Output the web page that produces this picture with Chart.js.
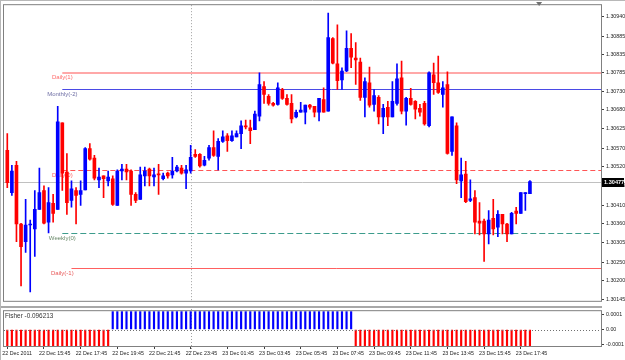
<!DOCTYPE html>
<html><head><meta charset="utf-8">
<script src="https://cdn.jsdelivr.net/npm/chart.js@4.4.0/dist/chart.umd.min.js"></script>
<style>
html,body{margin:0;padding:0;background:#fff;}
#wrap{position:relative;width:625px;height:360px;overflow:hidden;background:#fff;}
#c1{position:absolute;left:0;top:0;width:625px;height:306px;}
#c2{position:absolute;left:0;top:306px;width:625px;height:54px;}
</style></head><body>
<div id="wrap"><canvas id="c1" width="625" height="306"></canvas><canvas id="c2" width="625" height="54"></canvas></div>
<script>
// ---------- DATA (EURUSD-like, M15) ----------
const opens = [1.30565,1.30446,1.30523,1.30358,1.30308,1.30355,1.30344,1.30399,1.30452,1.30363,
1.30416,1.30399,1.30642,1.30504,1.30424,1.30452,1.30441,1.30454,1.30570,1.30543,
1.30482,1.30493,1.30479,1.30485,1.30410,1.30507,1.30512,1.30507,1.30441,1.30427,
1.30493,1.30512,1.30490,1.30498,1.30485,1.30501,1.30496,1.30507,1.30515,1.30501,
1.30507,1.30554,1.30554,1.30523,1.30543,1.30573,1.30548,1.30590,1.30606,1.30592,
1.30603,1.30612,1.30634,1.30628,1.30623,1.30661,1.30744,1.30717,1.30697,1.30694,
1.30736,1.30711,1.30697,1.30659,1.30672,1.30672,1.30692,1.30689,1.30672,1.30708,
1.30675,1.30879,1.30808,1.30763,1.30788,1.30852,1.30824,1.30813,1.30714,1.30755,
1.30694,1.30714,1.30659,1.30686,1.30659,1.30697,1.30769,1.30675,1.30711,1.30703,
1.30683,1.30697,1.30634,1.30777,1.30755,1.30722,1.30750,1.30562,1.30634,1.30479,
1.30498,1.30424,1.30432,1.30366,1.30366,1.30330,1.30374,1.30349,1.30385,1.30358,
1.30330,1.30394,1.30388,1.30443,1.30443];
const highs = [1.30612,1.30523,1.30534,1.30360,1.30427,1.30369,1.30452,1.30515,1.30465,1.30460,
1.30441,1.30689,1.30642,1.30556,1.30479,1.30460,1.30479,1.30573,1.30584,1.30551,
1.30515,1.30493,1.30507,1.30493,1.30510,1.30526,1.30526,1.30510,1.30446,1.30518,
1.30518,1.30515,1.30515,1.30526,1.30501,1.30504,1.30545,1.30523,1.30523,1.30523,
1.30579,1.30567,1.30556,1.30548,1.30579,1.30620,1.30598,1.30620,1.30612,1.30620,
1.30620,1.30648,1.30650,1.30650,1.30675,1.30783,1.30758,1.30722,1.30700,1.30755,
1.30739,1.30722,1.30722,1.30678,1.30700,1.30692,1.30694,1.30689,1.30711,1.30741,
1.30951,1.30882,1.30918,1.30797,1.30901,1.30893,1.30868,1.30824,1.30769,1.30799,
1.30736,1.30719,1.30694,1.30703,1.30758,1.30808,1.30816,1.30714,1.30739,1.30705,
1.30694,1.30703,1.30786,1.30810,1.30830,1.30758,1.30786,1.30659,1.30642,1.30543,
1.30534,1.30482,1.30452,1.30418,1.30372,1.30396,1.30427,1.30396,1.30385,1.30360,
1.30391,1.30405,1.30446,1.30446,1.30480];
const lows = [1.30460,1.30438,1.30308,1.30184,1.30278,1.30167,1.30267,1.30399,1.30358,1.30333,
1.30363,1.30399,1.30452,1.30385,1.30405,1.30358,1.30410,1.30454,1.30537,1.30482,
1.30460,1.30432,1.30465,1.30410,1.30410,1.30482,1.30482,1.30410,1.30418,1.30427,
1.30465,1.30465,1.30465,1.30441,1.30482,1.30487,1.30487,1.30504,1.30498,1.30457,
1.30501,1.30545,1.30518,1.30521,1.30537,1.30548,1.30510,1.30587,1.30562,1.30590,
1.30603,1.30570,1.30625,1.30584,1.30623,1.30648,1.30697,1.30692,1.30689,1.30692,
1.30708,1.30692,1.30642,1.30656,1.30672,1.30639,1.30681,1.30659,1.30648,1.30672,
1.30675,1.30808,1.30736,1.30736,1.30786,1.30797,1.30750,1.30705,1.30659,1.30686,
1.30675,1.30639,1.30612,1.30634,1.30659,1.30692,1.30667,1.30636,1.30692,1.30653,
1.30661,1.30636,1.30631,1.30722,1.30725,1.30686,1.30554,1.30551,1.30471,1.30432,
1.30418,1.30421,1.30330,1.30327,1.30253,1.30302,1.30327,1.30322,1.30330,1.30308,
1.30330,1.30358,1.30388,1.30396,1.30443];
const closes = [1.30474,1.30507,1.30358,1.30294,1.30355,1.30358,1.30399,1.30446,1.30360,1.30418,
1.30388,1.30645,1.30501,1.30418,1.30457,1.30438,1.30452,1.30570,1.30540,1.30487,
1.30490,1.30485,1.30490,1.30413,1.30507,1.30512,1.30504,1.30441,1.30424,1.30496,
1.30507,1.30493,1.30496,1.30496,1.30493,1.30493,1.30507,1.30518,1.30501,1.30510,
1.30545,1.30548,1.30521,1.30537,1.30573,1.30551,1.30590,1.30603,1.30592,1.30606,
1.30612,1.30634,1.30631,1.30620,1.30667,1.30750,1.30722,1.30697,1.30692,1.30741,
1.30711,1.30694,1.30653,1.30672,1.30678,1.30692,1.30686,1.30672,1.30711,1.30672,
1.30882,1.30810,1.30761,1.30788,1.30852,1.30827,1.30819,1.30714,1.30758,1.30692,
1.30719,1.30659,1.30683,1.30659,1.30703,1.30766,1.30675,1.30711,1.30694,1.30681,
1.30672,1.30639,1.30783,1.30755,1.30728,1.30741,1.30556,1.30659,1.30482,1.30496,
1.30421,1.30429,1.30363,1.30360,1.30330,1.30369,1.30344,1.30385,1.30358,1.30330,
1.30388,1.30388,1.30446,1.30446,1.30477];
const fisher = [-0.1,-0.1,-0.1,-0.1,-0.1,-0.1,-0.1,-0.1,-0.1,-0.1,-0.1,-0.1,-0.1,-0.1,-0.1,-0.1,-0.1,-0.1,-0.1,-0.1,-0.1,-0.1,-0.1,
0.1,0.1,0.1,0.1,0.1,0.1,0.1,0.1,0.1,0.1,0.1,0.1,0.1,0.1,0.1,0.1,0.1,0.1,0.1,0.1,0.1,0.1,0.1,0.1,0.1,0.1,0.1,0.1,0.1,0.1,
0.1,0.1,0.1,0.1,0.1,0.1,0.1,0.1,0.1,0.1,0.1,0.1,0.1,0.1,0.1,0.1,0.1,0.1,0.1,0.1,0.1,0.1,0.1,
-0.1,-0.1,-0.1,-0.1,-0.1,-0.1,-0.1,-0.1,-0.1,-0.1,-0.1,-0.1,-0.1,-0.1,-0.1,-0.1,-0.1,-0.1,-0.1,-0.1,
-0.1,-0.1,-0.1,-0.1,-0.1,-0.1,-0.1,-0.1,-0.1,-0.1,-0.1,-0.1,-0.1,-0.1,-0.1,-0.1,-0.1,-0.1,-0.096213];
const fisherName = "Fisher";

const priceTicks = [1.30940,1.30885,1.30835,1.30785,1.30730,1.30680,1.30625,1.30570,1.30520,1.30465,1.30410,1.30360,1.30305,1.30250,1.30200,1.30145];
const currentPrice = 1.30477;
const priceMin = 1.30142, priceMax = 1.30973;

const fisherTicks = [0.0001, 0, -0.0001];
const fisherTickLabels = ["0.0001", "0.00", "-0.0001"];
const fisherMin = -0.0001125, fisherMax = 0.000125;

const levelNames  = ["Daily(1)", "Monthly(-2)", "Daily(0)", "Weekly(0)", "Daily(-1)"];
const levelValues = [1.30783, 1.30736, 1.30510, 1.30333, 1.30235];
const levelStartBar = [12, 12, 12, 12, 14];
const levelLabelBar = 12;

const timeTickLabels = ["22 Dec 2011","22 Dec 15:45","22 Dec 17:45","22 Dec 19:45","22 Dec 21:45","22 Dec 23:45",
"23 Dec 01:45","23 Dec 03:45","23 Dec 05:45","23 Dec 07:45","23 Dec 09:45","23 Dec 11:45","23 Dec 13:45","23 Dec 15:45","23 Dec 17:45"];
const barsPerTimeLabel = 8;
const daySeparatorBar = 40;
const chartShiftBar = 116;
const totalSlots = 130;   // 115 bars + empty space to the right
const firstBarMinutes = 13*60 + 45; // 22 Dec 13:45, M15 bars

// ---------- STYLE ----------
const S = {
  bull: '#0000ff', bear: '#ff0000',
  font: '"Liberation Sans", Arial, sans-serif',
  levelLine:  ['#ffa8a8', '#4a4ae6', '#ff5555', '#3c9c8c', '#ff6060'],
  levelText:  ['#ff6a6a', '#6e6ea4', '#ff5a5a', '#6a8a6a', '#e85858'],
  levelWidth: [2, 1, 1, 1, 1],
  levelDash:  [[], [], [5,3], [6,3], []],
  frame: '#808080', priceLine: '#c0c0c0', sep: '#a0a0a0', axisText: '#222'
};

const categories = [];
for (let i = 0; i < totalSlots; i++) {
  const t = firstBarMinutes + 15*i;
  const d = 22 + Math.floor(t/1440), h = Math.floor((t%1440)/60), m = t%60;
  categories.push(d + ' Dec ' + String(h).padStart(2,'0') + ':' + String(m).padStart(2,'0'));
}
const bodies = opens.map((o,i) => [o, closes[i]]);
const wicks  = lows.map((l,i) => [l, highs[i]]);
const candleColors = opens.map((o,i) => closes[i] >= o ? S.bull : S.bear);
const fisherColors = fisher.map(v => v >= 0 ? S.bull : S.bear);

function dotted(ctx, x, y0, y1) {
  ctx.save(); ctx.strokeStyle = S.sep; ctx.lineWidth = 1; ctx.setLineDash([1,2]);
  ctx.beginPath(); ctx.moveTo(Math.round(x)+0.5, y0); ctx.lineTo(Math.round(x)+0.5, y1); ctx.stroke(); ctx.restore();
}

const mainDecor = {
  id: 'mainDecor',
  beforeDatasetsDraw(chart) {
    const {ctx, chartArea: a, scales: {x, y}} = chart;
    ctx.save();
    dotted(ctx, x.getPixelForValue(daySeparatorBar), a.top, a.bottom + 1);
    const yc = Math.round(y.getPixelForValue(currentPrice)) + 0.5;
    ctx.strokeStyle = S.priceLine; ctx.lineWidth = 1;
    ctx.beginPath(); ctx.moveTo(a.left - 1, yc); ctx.lineTo(a.right, yc); ctx.stroke();
    ctx.font = '6px ' + S.font; ctx.textAlign = 'center'; ctx.textBaseline = 'top';
    levelNames.forEach((n, i) => {
      const w = S.levelWidth[i];
      let yy = Math.round(y.getPixelForValue(levelValues[i]));
      if (w % 2 === 1) yy += 0.5;
      ctx.strokeStyle = S.levelLine[i]; ctx.lineWidth = w; ctx.setLineDash(S.levelDash[i]);
      ctx.beginPath(); ctx.moveTo(x.getPixelForValue(levelStartBar[i]), yy); ctx.lineTo(a.right, yy); ctx.stroke();
      ctx.setLineDash([]);
      ctx.fillStyle = S.levelText[i];
      ctx.fillText(n, x.getPixelForValue(levelLabelBar), yy + 1.5);
    });
    ctx.restore();
  },
  afterDraw(chart) {
    const {ctx, chartArea: a, scales: {x, y}} = chart;
    ctx.save();
    ctx.strokeStyle = S.frame; ctx.lineWidth = 1;
    ctx.strokeRect(a.left - 1.5, a.top - 0.5, a.right - a.left + 2, a.bottom - a.top + 1);
    ctx.strokeStyle = '#b8b8b8';
    ctx.beginPath(); ctx.moveTo(0, 0.5); ctx.lineTo(625, 0.5); ctx.moveTo(0.5, 0); ctx.lineTo(0.5, 306); ctx.stroke();
    const yc = y.getPixelForValue(currentPrice);
    ctx.fillStyle = '#000'; ctx.fillRect(a.right + 1, Math.round(yc) - 4, 22, 9);
    ctx.fillStyle = '#fff'; ctx.font = 'bold 5.6px ' + S.font; ctx.textAlign = 'left'; ctx.textBaseline = 'middle';
    ctx.fillText(currentPrice.toFixed(5), a.right + 3, Math.round(yc) + 0.5);
    const xm = x.getPixelForValue(chartShiftBar);
    ctx.fillStyle = '#707070';
    ctx.beginPath(); ctx.moveTo(xm - 3, 2); ctx.lineTo(xm + 3, 2); ctx.lineTo(xm, 6); ctx.closePath(); ctx.fill();
    ctx.restore();
  }
};

new Chart(document.getElementById('c1'), {
  type: 'bar',
  data: {
    labels: categories,
    datasets: [
      { data: bodies, backgroundColor: candleColors, barThickness: 3, grouped: false, order: 0, minBarLength: 1, borderWidth: 0 },
      { data: wicks, backgroundColor: candleColors, barThickness: 1, grouped: false, order: 1, borderWidth: 0 }
    ]
  },
  options: {
    responsive: false, animation: false, events: [],
    layout: { padding: { left: 5, right: 0, top: 4, bottom: 1 } },
    plugins: { legend: { display: false }, tooltip: { enabled: false } },
    scales: {
      x: { type: 'category', display: false, offset: true },
      y: {
        position: 'right', min: priceMin, max: priceMax,
        afterBuildTicks: s => { s.ticks = priceTicks.map(v => ({ value: v })); },
        afterFit: s => { s.width = 24; },
        border: { display: false },
        grid: { drawOnChartArea: false, drawTicks: true, tickLength: 3, color: '#404040' },
        ticks: { padding: 2, color: S.axisText, font: { family: S.font, size: 5.3 }, callback: v => Number(v).toFixed(5) }
      }
    }
  },
  plugins: [mainDecor]
});

const subDecor = {
  id: 'subDecor',
  beforeDatasetsDraw(chart) {
    const {ctx, chartArea: a, scales: {x}} = chart;
    ctx.save();
    dotted(ctx, x.getPixelForValue(daySeparatorBar), 0, a.bottom + 7);
    ctx.restore();
  },
  afterDatasetsDraw(chart) {
    const {ctx, chartArea: a, scales: {y}} = chart;
    ctx.save();
    const y0 = Math.round(y.getPixelForValue(0)) + 0.5;
    ctx.strokeStyle = '#707070'; ctx.lineWidth = 1; ctx.setLineDash([1,2]);
    ctx.beginPath(); ctx.moveTo(a.left - 1, y0); ctx.lineTo(a.right, y0); ctx.stroke();
    ctx.restore();
  },
  afterDraw(chart) {
    const {ctx, chartArea: a} = chart;
    ctx.save();
    ctx.fillStyle = '#a8a8a8'; ctx.fillRect(0, 0, a.right + 1, 2);
    ctx.strokeStyle = S.frame; ctx.lineWidth = 1;
    ctx.strokeRect(a.left - 1.5, a.top - 0.5, a.right - a.left + 2, a.bottom - a.top + 1);
    ctx.strokeStyle = '#b8b8b8';
    ctx.beginPath(); ctx.moveTo(0.5, 0); ctx.lineTo(0.5, 54); ctx.stroke();
    ctx.fillStyle = '#333'; ctx.font = '6.4px ' + S.font; ctx.textAlign = 'left'; ctx.textBaseline = 'middle';
    ctx.fillText(fisherName + ' ' + fisher[fisher.length - 1].toFixed(6), a.left, a.top + 5);
    ctx.restore();
  }
};

new Chart(document.getElementById('c2'), {
  type: 'bar',
  data: {
    labels: categories,
    datasets: [{ data: fisher, backgroundColor: fisherColors, barThickness: 1.5, borderWidth: 0 }]
  },
  options: {
    responsive: false, animation: false, events: [],
    layout: { padding: { left: 5, right: 0, top: 2, bottom: 0 } },
    plugins: { legend: { display: false }, tooltip: { enabled: false } },
    scales: {
      x: {
        type: 'category', offset: true,
        afterFit: s => { s.height = 14; },
        border: { display: false },
        grid: { drawOnChartArea: false, drawTicks: true, tickLength: 3, color: '#404040', offset: false },
        ticks: {
          autoSkip: false, maxRotation: 0, align: 'start', labelOffset: -5, padding: 1,
          color: S.axisText, font: { family: S.font, size: 5.3 },
          callback: (v, i) => (i % barsPerTimeLabel === 0 && i / barsPerTimeLabel < timeTickLabels.length) ? timeTickLabels[i / barsPerTimeLabel] : null
        }
      },
      y: {
        position: 'right', min: fisherMin, max: fisherMax,
        afterBuildTicks: s => { s.ticks = fisherTicks.map(v => ({ value: v })); },
        afterFit: s => { s.width = 24; },
        border: { display: false },
        grid: { drawOnChartArea: false, drawTicks: true, tickLength: 3, color: '#404040' },
        ticks: { padding: 2, color: S.axisText, font: { family: S.font, size: 5.3 },
          callback: (v, i) => fisherTickLabels[i] }
      }
    }
  },
  plugins: [subDecor]
});
</script></body></html>
